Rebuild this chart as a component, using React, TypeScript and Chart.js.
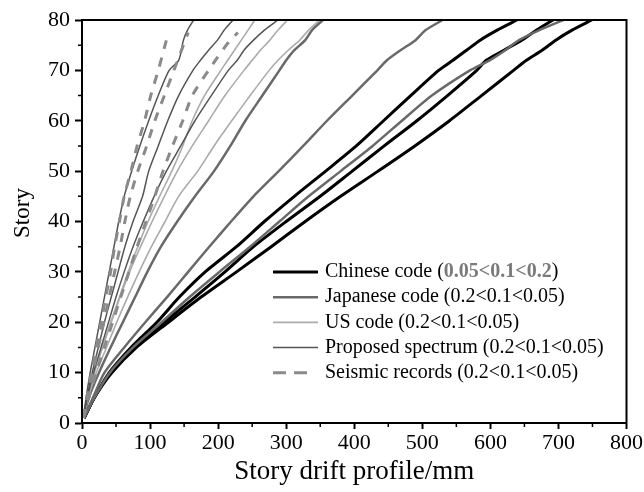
import { useEffect, useRef } from "react";
import { Chart, registerables } from "chart.js";

Chart.register(...registerables);

const SERIF = '"Liberation Serif", "Times New Roman", Times, serif';

// Story levels at which the drift profiles are sampled
const STORIES = [1, 5, 10, 15, 20, 25, 30, 35, 40, 45, 50, 55, 60, 65, 70, 72, 74, 76, 78, 80];
const RECORD_STORIES = [1, 5, 10, 15, 20, 25, 30, 35, 40, 45, 50, 55, 60, 65, 70, 75, 77.5];

// Story drift (mm) for each damping level
const chinese1 = [3, 18, 40, 72, 110, 143, 181, 227, 268, 312, 358, 403, 443, 483, 524, 545, 565, 585, 610, 639];
const chinese2 = [3, 18, 42, 77, 121, 166, 210, 252, 300, 350, 397, 444, 492, 537, 580, 594, 620, 646, 668, 692];
const chinese3 = [3, 18, 44, 80, 127, 175, 227, 278, 328, 380, 435, 489, 540, 587, 634, 653, 676, 696, 720, 749];

const japanese1 = [2, 10, 25, 42, 60, 78, 96, 116, 140, 166, 194, 218, 240, 265, 290, 300, 312, 328, 338, 354];
const japanese2 = [3, 16, 33, 62, 93, 125, 156, 187, 219, 252, 289, 325, 360, 397, 434, 448, 468, 490, 505, 530];
const japanese3 = [3, 18, 41, 75, 117, 158, 202, 247, 290, 333, 380, 427, 470, 514, 570, 599, 622, 642, 672, 707];

const us1 = [2, 8, 18, 30, 42, 55, 68, 82, 97, 114, 132, 148, 162, 180, 204, 214, 224, 234, 244, 254];
const us2 = [2, 8, 18, 30, 43, 56, 70, 86, 103, 121, 140, 162, 186, 210, 238, 250, 262, 276, 288, 302];
const us3 = [2, 9, 21, 36, 51, 67, 84, 102, 122, 142, 170, 194, 220, 247, 275, 288, 303, 320, 333, 349];

const proposed1 = [2, 6, 12, 19, 26, 33, 40, 47, 54, 62, 73, 85, 98, 112, 128, 142, 146, 149, 155, 164];
const proposed2 = [2, 7, 15, 24, 33, 43, 53, 63, 75, 89, 98, 112, 126, 142, 163, 174, 186, 199, 209, 222];
const proposed3 = [2, 8, 17, 28, 39, 50, 62, 75, 90, 106, 124, 145, 166, 190, 215, 228, 238, 252, 268, 288];

const records1 = [2, 7, 14, 21, 28, 35, 42, 48, 55, 62, 72, 81, 92, 101, 112, 122, 127];
const records2 = [2, 8, 16, 24, 32, 40, 48, 56, 63, 71, 82, 95, 107, 121, 135, 149, 156];
const records3 = [2, 10, 21, 33, 45, 57, 69, 81, 94, 107, 119, 133, 148, 162, 186, 212, 229];

// Legend text
const SERIES_NAMES = ["Chinese code", "Japanese code", "US code", "Proposed spectrum", "Seismic records"];
const SERIES_RANGES = ["0.05<0.1<0.2", "0.2<0.1<0.05", "0.2<0.1<0.05", "0.2<0.1<0.05", "0.2<0.1<0.05"];

// Axis ticks and titles
const X_TICKS = [0, 100, 200, 300, 400, 500, 600, 700, 800];
const Y_TICKS = [0, 10, 20, 30, 40, 50, 60, 70, 80];
const X_TITLE = "Story drift profile/mm";
const Y_TITLE = "Story";

type Style = { color: string; width: number; dash: number[] };
const STYLES: Style[] = [
  { color: "#000000", width: 3, dash: [] },
  { color: "#696969", width: 2.5, dash: [] },
  { color: "#ababab", width: 1.6, dash: [] },
  { color: "#555555", width: 1.5, dash: [] },
  { color: "#8a8a8a", width: 3, dash: [9, 9] },
];

const GROUP_LINES = [
  [chinese1, chinese2, chinese3],
  [japanese1, japanese2, japanese3],
  [us1, us2, us3],
  [proposed1, proposed2, proposed3],
  [records1, records2, records3],
];
const GROUP_STORIES = [STORIES, STORIES, STORIES, STORIES, RECORD_STORIES];

// draw order: records and proposed first, codes on top
const DRAW_ORDER = [4, 3, 2, 1, 0];

function buildDatasets() {
  const sets: any[] = [];
  DRAW_ORDER.forEach((g) => {
    const st = STYLES[g];
    GROUP_LINES[g].forEach((drifts, k) => {
      sets.push({
        label: `${SERIES_NAMES[g]} ${k + 1}`,
        data: drifts.map((d, i) => ({ x: d, y: GROUP_STORIES[g][i] })),
        borderColor: st.color,
        borderWidth: st.width,
        borderDash: st.dash,
        borderCapStyle: "butt",
        pointRadius: 0,
        fill: false,
        tension: 0.25,
      });
    });
  });
  return sets;
}

const framePlugin = {
  id: "frameAndLegend",
  afterDraw(chart: any) {
    const { ctx, chartArea } = chart;
    const { left, right, top, bottom } = chartArea;
    const xs = chart.scales.x;
    const ys = chart.scales.y;
    ctx.save();
    ctx.strokeStyle = "#000";
    ctx.lineWidth = 2;
    ctx.strokeRect(left, top, right - left, bottom - top);

    // minor ticks halfway between major ticks
    ctx.lineWidth = 1.5;
    ctx.beginPath();
    for (let i = 0; i < X_TICKS.length - 1; i++) {
      const px = xs.getPixelForValue((X_TICKS[i] + X_TICKS[i + 1]) / 2);
      ctx.moveTo(px, bottom);
      ctx.lineTo(px, bottom + 4);
    }
    for (let i = 0; i < Y_TICKS.length - 1; i++) {
      const py = ys.getPixelForValue((Y_TICKS[i] + Y_TICKS[i + 1]) / 2);
      ctx.moveTo(left, py);
      ctx.lineTo(left - 4, py);
    }
    ctx.stroke();

    // y axis title
    ctx.save();
    ctx.translate(23, 213);
    ctx.rotate(-Math.PI / 2);
    ctx.font = `23px ${SERIF}`;
    ctx.fillStyle = "#000";
    ctx.textAlign = "center";
    ctx.textBaseline = "middle";
    ctx.fillText(Y_TITLE, 0, 0);
    ctx.restore();

    // legend
    const lx0 = 273;
    const lx1 = 318;
    const tx = 325;
    const y0 = 272;
    const dy = 25.2;
    ctx.textBaseline = "middle";
    ctx.textAlign = "left";
    SERIES_NAMES.forEach((name, i) => {
      const st = STYLES[i];
      const y = y0 + i * dy;
      ctx.beginPath();
      ctx.strokeStyle = st.color;
      ctx.lineWidth = st.width;
      if (st.dash.length) {
        ctx.moveTo(lx0, y);
        ctx.lineTo(lx0 + 13, y);
        ctx.moveTo(lx0 + 21, y);
        ctx.lineTo(lx0 + 34, y);
      } else {
        ctx.moveTo(lx0, y);
        ctx.lineTo(lx1, y);
      }
      ctx.stroke();

      ctx.fillStyle = "#000";
      ctx.font = `20px ${SERIF}`;
      const head = `${name} (`;
      ctx.fillText(head, tx, y);
      let x = tx + ctx.measureText(head).width;
      if (i === 0) {
        ctx.font = `bold 20px ${SERIF}`;
        ctx.fillStyle = "#7a7a7a";
      }
      ctx.fillText(SERIES_RANGES[i], x, y);
      x += ctx.measureText(SERIES_RANGES[i]).width;
      ctx.font = `20px ${SERIF}`;
      ctx.fillStyle = "#000";
      ctx.fillText(")", x, y);
    });
    ctx.restore();
  },
};

export default function App() {
  const ref = useRef<HTMLCanvasElement | null>(null);

  useEffect(() => {
    if (!ref.current) return;
    const chart = new Chart(ref.current, {
      type: "line",
      data: { datasets: buildDatasets() },
      options: {
        responsive: false,
        animation: false,
        devicePixelRatio: 1,
        layout: { padding: { top: 20, right: 17, left: 0, bottom: 0 } },
        plugins: { legend: { display: false }, tooltip: { enabled: false } },
        scales: {
          x: {
            type: "linear",
            min: 0,
            max: 800,
            afterBuildTicks: (s: any) => {
              s.ticks = X_TICKS.map((v) => ({ value: v }));
            },
            afterFit: (s: any) => {
              s.height = 69;
            },
            ticks: {
              color: "#000",
              font: { family: SERIF, size: 22 },
              padding: 1,
              maxRotation: 0,
              autoSkip: false,
            },
            grid: {
              drawOnChartArea: false,
              drawTicks: true,
              tickLength: 6,
              tickWidth: 2,
              tickColor: "#000",
            },
            border: { display: true, color: "#000", width: 2 },
            title: {
              display: true,
              text: X_TITLE,
              color: "#000",
              font: { family: SERIF, size: 27 },
              padding: { top: 0, bottom: 4 },
            },
          },
          y: {
            type: "linear",
            min: 0,
            max: 80,
            afterBuildTicks: (s: any) => {
              s.ticks = Y_TICKS.map((v) => ({ value: v }));
            },
            afterFit: (s: any) => {
              s.width = 82;
            },
            ticks: {
              color: "#000",
              font: { family: SERIF, size: 22 },
              padding: 5,
              autoSkip: false,
            },
            grid: {
              drawOnChartArea: false,
              drawTicks: true,
              tickLength: 7,
              tickWidth: 2,
              tickColor: "#000",
            },
            border: { display: true, color: "#000", width: 2 },
            title: { display: false },
          },
        },
      },
      plugins: [framePlugin],
    });
    return () => chart.destroy();
  }, []);

  return (
    <div style={{ position: "absolute", left: 0, top: 0, width: 644, height: 492, background: "#fff" }}>
      <canvas ref={ref} width={644} height={492} />
    </div>
  );
}
